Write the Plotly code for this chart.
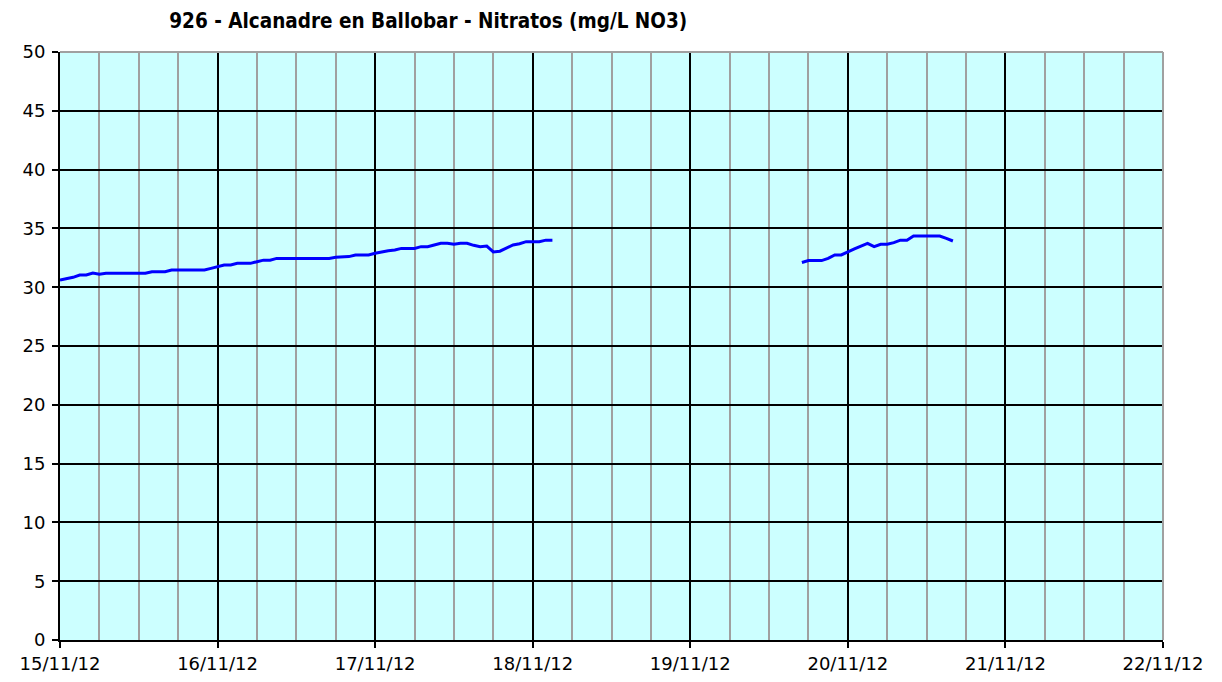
import pandas as pd
import plotly.graph_objects as go

# Series 1: hourly readings from 15/11/12 00:00
seg1_start = "2012-11-15 00:00"
seg1_values = [
    30.60, 30.70, 30.84, 31.04, 31.04, 31.20, 31.10, 31.18, 31.18, 31.18,
    31.18, 31.18, 31.18, 31.18, 31.32, 31.32, 31.32, 31.46, 31.46, 31.46,
    31.46, 31.46, 31.46, 31.60, 31.75, 31.89, 31.89, 32.03, 32.03, 32.03,
    32.17, 32.30, 32.30, 32.45, 32.45, 32.45, 32.45, 32.45, 32.45, 32.45,
    32.45, 32.45, 32.54, 32.60, 32.60, 32.74, 32.74, 32.74, 32.88, 33.02,
    33.10, 33.16, 33.30, 33.30, 33.30, 33.45, 33.45, 33.59, 33.73, 33.73,
    33.65, 33.73, 33.73, 33.56, 33.45, 33.50, 33.00, 33.06, 33.30, 33.59,
    33.70, 33.87, 33.87, 33.87, 34.00, 34.00,
]
# Series 2: hourly readings from 19/11/12 17:00
seg2_start = "2012-11-19 17:00"
seg2_values = [
    32.10, 32.26, 32.26, 32.26, 32.45, 32.74, 32.74, 33.02, 33.25, 33.50,
    33.73, 33.45, 33.65, 33.65, 33.79, 34.00, 34.00, 34.35, 34.35, 34.35,
    34.35, 34.35, 34.15, 33.93,
]

day_ticks = ["2012-11-15", "2012-11-16", "2012-11-17", "2012-11-18",
             "2012-11-19", "2012-11-20", "2012-11-21", "2012-11-22"]
day_labels = ["15/11/12", "16/11/12", "17/11/12", "18/11/12",
              "19/11/12", "20/11/12", "21/11/12", "22/11/12"]
y_ticks = [0, 5, 10, 15, 20, 25, 30, 35, 40, 45, 50]

title_text = "926 - Alcanadre en Ballobar - Nitratos (mg/L NO3)"

t1 = list(pd.date_range(seg1_start, periods=len(seg1_values), freq="h"))
t2 = list(pd.date_range(seg2_start, periods=len(seg2_values), freq="h"))
x = t1 + [None] + t2
y = seg1_values + [None] + seg2_values

fig = go.Figure()
fig.add_trace(go.Scatter(
    x=x, y=y, mode="lines", connectgaps=False,
    line=dict(color="#0000FF", width=3), hoverinfo="x+y", showlegend=False,
))

tick_font = dict(family="DejaVu Sans, Verdana, sans-serif", size=18, color="#000000")

# page body has an 8px offset; margins compensate so the plot area
# sits at x 57..1163, y 52..640 in the screenshot
fig.update_layout(
    width=1222, height=682,
    margin=dict(l=49, r=67, t=44, b=50, pad=0),
    paper_bgcolor="#FFFFFF",
    plot_bgcolor="#CCFFFF",
    title=dict(
        text=title_text, x=(416 - 8) / 1222, xanchor="center", xref="paper",
        y=1 - (21 - 8) / 682, yanchor="middle", yref="container",
        font=dict(family="DejaVu Sans Condensed, DejaVu Sans, sans-serif",
                  size=20.5, color="#000000", weight="bold"),
    ),
    xaxis=dict(
        type="date",
        range=[day_ticks[0], day_ticks[-1]],
        tickmode="array", tickvals=day_ticks, ticktext=day_labels,
        tickfont=tick_font,
        ticks="outside", ticklen=6, tickwidth=2, tickcolor="#000000",
        showline=True, linecolor="#000000", linewidth=2,
        showgrid=True, gridcolor="#000000", gridwidth=2,
        minor=dict(dtick=6 * 3600 * 1000, showgrid=True,
                   gridcolor="#A0A0A0", gridwidth=2, ticks=""),
        zeroline=False, fixedrange=True,
    ),
    yaxis=dict(
        range=[0, 50], tickmode="array", tickvals=y_ticks,
        tickfont=tick_font,
        ticks="outside", ticklen=6, tickwidth=2, tickcolor="#000000",
        showline=True, linecolor="#000000", linewidth=2,
        showgrid=True, gridcolor="#000000", gridwidth=2,
        zeroline=False, fixedrange=True, ticklabelstandoff=3,
    ),
)

# grey plot-area border on top and right
fig.add_shape(type="line", xref="x domain", yref="y domain",
              x0=0, x1=1, y0=1, y1=1, line=dict(color="#A0A0A0", width=2),
              layer="above")
fig.add_shape(type="line", xref="x domain", yref="y domain",
              x0=1, x1=1, y0=0, y1=1, line=dict(color="#A0A0A0", width=2),
              layer="above")

fig.write_html("out.html")
